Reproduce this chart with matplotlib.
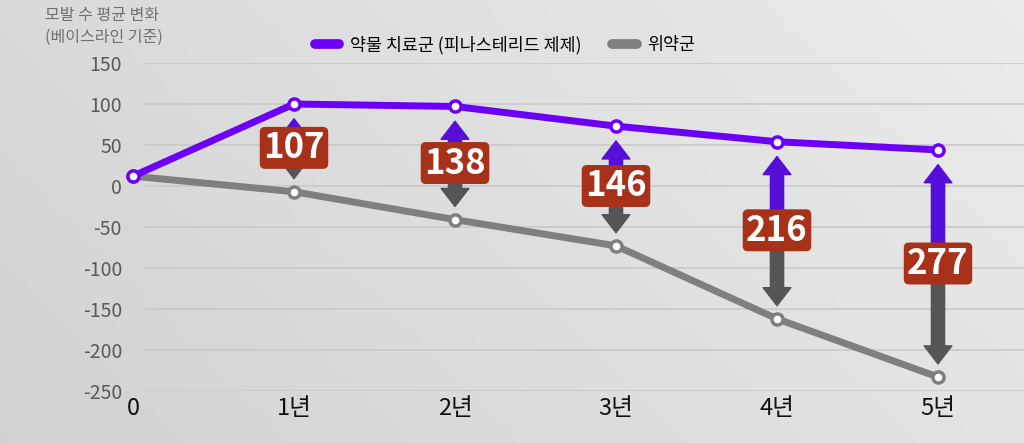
import numpy as np
import matplotlib
matplotlib.use("Agg")
import matplotlib.pyplot as plt
from matplotlib.lines import Line2D

plt.rcParams["font.family"] = ["Noto Sans CJK KR", "DejaVu Sans"]

# data
years = [0, 1, 2, 3, 4, 5]
year_labels = ["0", "1년", "2년", "3년", "4년", "5년"]
drug = [12, 100, 97, 73, 54, 44]
placebo = [12, -7, -41, -73, -162, -233]
gap_labels = ["107", "138", "146", "216", "277"]
yticks = [150, 100, 50, 0, -50, -100, -150, -200, -250]

purple = "#6c00f6"
gray = "#7f7f7f"
boxred = "#a8311a"

fig = plt.figure(figsize=(10.24, 4.43), dpi=100)

# soft gray background gradient
bg = fig.add_axes([0, 0, 1, 1], zorder=-10)
gx, gy = np.meshgrid(np.linspace(0, 1, 200), np.linspace(0, 1, 100))
shade = 0.85 + 0.07 * gx - 0.03 * gy
bg.imshow(shade, cmap="gray", vmin=0, vmax=1, aspect="auto", extent=[0, 1, 0, 1])
bg.axis("off")

ax = fig.add_axes([122 / 1024, 1 - 391 / 443, 902 / 1024, 328 / 443])
ax.set_facecolor("none")
for s in ax.spines.values():
    s.set_visible(False)
ax.set_yticks(yticks)
ax.set_yticklabels([str(v) for v in yticks], color="#5a5a5a", fontsize=14)
ax.set_xticks(years)
ax.set_xticklabels(year_labels, color="#111111", fontsize=17)
xmin, xmax = (122 - 133) / 161, (1024 - 133) / 161
ax.set_xlim(xmin, xmax)
ax.set_ylim(-250, 150)
ax.tick_params(axis="y", length=0, pad=0)
ax.tick_params(axis="x", length=0, pad=4)
# gridlines start a little right of the first point
ax.hlines(yticks, (145 - 133) / 161, xmax, color="#cbc9c7", lw=1.2, zorder=0)

ax.plot(years, placebo, color=gray, lw=5, marker="o", ms=8, mfc="white",
        mec=gray, mew=2.5, clip_on=False, zorder=3, solid_capstyle="round")
ax.plot(years, drug, color=purple, lw=5, marker="o", ms=8, mfc="white",
        mec=purple, mew=2.5, clip_on=False, zorder=4, solid_capstyle="round")

style = "simple,head_length=13,head_width=20,tail_width=9.5"
for i, lab in enumerate(gap_labels):
    x = years[i + 1]
    top = drug[i + 1]
    bot = placebo[i + 1]
    mid = (top + bot) / 2
    ax.annotate("", xy=(x, top - 18), xytext=(x, mid),
                arrowprops=dict(arrowstyle=style, color="#560fd8",
                                mutation_scale=1, shrinkA=0, shrinkB=0),
                zorder=5)
    ax.annotate("", xy=(x, bot + 16), xytext=(x, mid),
                arrowprops=dict(arrowstyle=style, color="#555555",
                                mutation_scale=1, shrinkA=0, shrinkB=0),
                zorder=5)
    ax.text(x, mid, lab, ha="center", va="center", color="white",
            fontsize=25, fontweight="bold", zorder=6,
            bbox=dict(boxstyle="round,pad=0.1,rounding_size=0.15",
                      fc=boxred, ec="none"))

fig.text(45 / 1024, 1 - 7 / 443, "모발 수 평균 변화\n(베이스라인 기준)",
         ha="left", va="top", fontsize=11.5, color="#707070", linespacing=1.35)

handles = [Line2D([], [], color=purple, lw=7, solid_capstyle="round"),
           Line2D([], [], color=gray, lw=7, solid_capstyle="round")]
fig.legend(handles, ["약물 치료군 (피나스테리드 제제)", "위약군"],
           loc="center", bbox_to_anchor=(505 / 1024, 1 - 45 / 443),
           ncol=2, frameon=False, fontsize=12.5, handlelength=1.4,
           columnspacing=1.8, handletextpad=0.6)

fig.savefig("out.png", dpi=100)
